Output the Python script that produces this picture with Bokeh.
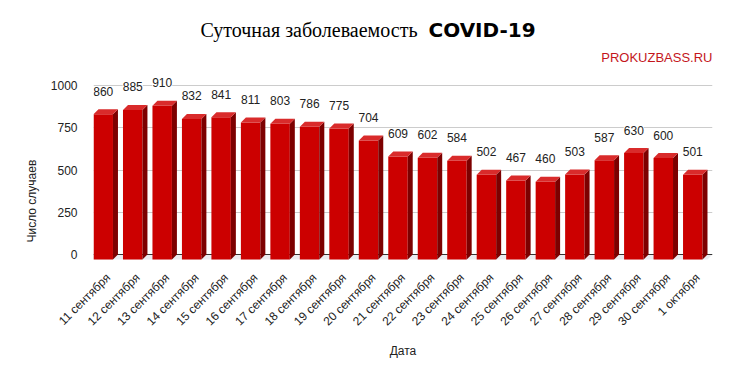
import math
from bokeh.plotting import figure
from bokeh.models import ColumnDataSource, Label, LabelSet, FixedTicker, Range1d, Title
from bokeh.core.properties import value
from bokeh.embed import file_html
from bokeh.resources import INLINE

dates = ["11 сентября", "12 сентября", "13 сентября", "14 сентября", "15 сентября",
         "16 сентября", "17 сентября", "18 сентября", "19 сентября", "20 сентября",
         "21 сентября", "22 сентября", "23 сентября", "24 сентября", "25 сентября",
         "26 сентября", "27 сентября", "28 сентября", "29 сентября", "30 сентября",
         "1 октября"]
cases = [860, 885, 910, 832, 841, 811, 803, 786, 775, 704,
         609, 602, 584, 502, 467, 460, 503, 587, 630, 600, 501]
y_ticks = [0, 250, 500, 750, 1000]

FONT = "Liberation Sans"
W, H = 733, 374
ML, MR, MT, MB = 93, 21, 0, 109
FW, FH = W - ML - MR, H - MT - MB
n = len(dates)
px_y = 0.169
Y0 = -(FH - 254) / px_y
Y1 = 254 / px_y
px_x = FW / n
dxu = 5 / px_x
dyu = 5 / px_y
bw = 0.66

p = figure(width=W, height=H, output_backend="svg", toolbar_location=None,
           x_range=Range1d(0, n), y_range=Range1d(Y0, Y1),
           min_border_left=ML, min_border_right=MR, min_border_top=MT, min_border_bottom=MB)
p.outline_line_color = None
p.background_fill_color = "white"
p.border_fill_color = "white"
p.xgrid.grid_line_color = None
p.ygrid.grid_line_color = "#cccccc"
p.ygrid.ticker = FixedTicker(ticks=y_ticks[1:])

# floor and zero line
p.patch([0, n, n - dxu, -dxu], [0, 0, -dyu, -dyu], fill_color="#ebebf0", line_color=None)
p.line([0, n], [0, 0], line_color="#333333", line_width=1)

cx = [i + 0.5 for i in range(n)]
fl = [c - dxu - bw / 2 for c in cx]
fr = [c - dxu + bw / 2 for c in cx]

p.quad(left=fl, right=fr, bottom=[-dyu] * n, top=[v - dyu for v in cases],
       fill_color="#cc0000", line_color=None)
p.patches(xs=[[r, r + dxu, r + dxu, r] for r in fr],
          ys=[[-dyu, 0, v, v - dyu] for v in cases],
          fill_color="#7d0000", line_color=None)
p.patches(xs=[[l, r, r + dxu, l + dxu] for l, r in zip(fl, fr)],
          ys=[[v - dyu, v - dyu, v, v] for v in cases],
          fill_color="#d92b2b", line_color=None)

src = ColumnDataSource(dict(x=[c - dxu for c in cx], y=cases, t=[str(v) for v in cases]))
p.add_layout(LabelSet(x="x", y="y", text="t", source=src, y_offset=18,
                      text_align="center", text_baseline="middle",
                      text_font=value(FONT), text_font_size="12px", text_color="#222222",
                      background_fill_color="white"))

# axes
p.yaxis.ticker = FixedTicker(ticks=y_ticks)
p.yaxis.axis_line_color = None
p.yaxis.major_tick_line_color = None
p.yaxis.minor_tick_line_color = None
p.yaxis.major_label_standoff = 10
p.yaxis.major_label_text_font = FONT
p.yaxis.major_label_text_font_size = "12px"
p.yaxis.major_label_text_color = "#222222"

p.xaxis.ticker = FixedTicker(ticks=cx)
p.xaxis.major_label_overrides = {c: d for c, d in zip(cx, dates)}
p.xaxis.major_label_orientation = math.pi / 4
p.xaxis.axis_line_color = None
p.xaxis.major_tick_line_color = None
p.xaxis.minor_tick_line_color = None
p.xaxis.major_label_standoff = 4
p.xaxis.major_label_text_font = FONT
p.xaxis.major_label_text_font_size = "12px"
p.xaxis.major_label_text_color = "#222222"
p.xaxis.axis_label = "Дата"
p.xaxis.axis_label_text_font = FONT
p.xaxis.axis_label_text_font_size = "12px"
p.xaxis.axis_label_text_font_style = "normal"
p.xaxis.axis_label_text_color = "#222222"
p.xaxis.axis_label_standoff = 8

p.add_layout(Title(text="Число случаев", align="left", offset=23, standoff=17, text_font=FONT,
                   text_font_size="12px", text_font_style="normal", text_color="#222222"),
             "left")

# titles (screen units relative to the frame)
p.add_layout(Label(x=107, y=236, x_units="screen", y_units="screen",
                   text="Суточная заболеваемость", text_font="Liberation Serif",
                   text_font_size="20px", text_color="#000000", text_baseline="alphabetic"))
p.add_layout(Label(x=335, y=236, x_units="screen", y_units="screen",
                   text="COVID-19", text_font="DejaVu Sans", text_font_style="bold",
                   text_font_size="20px", text_color="#000000", text_baseline="alphabetic"))
p.add_layout(Label(x=FW, y=208, x_units="screen", y_units="screen",
                   text="PROKUZBASS.RU", text_font=FONT, text_font_size="13px",
                   text_color="#c4161c", text_align="right", text_baseline="alphabetic"))

open("out.html", "w").write(file_html(p, INLINE))
